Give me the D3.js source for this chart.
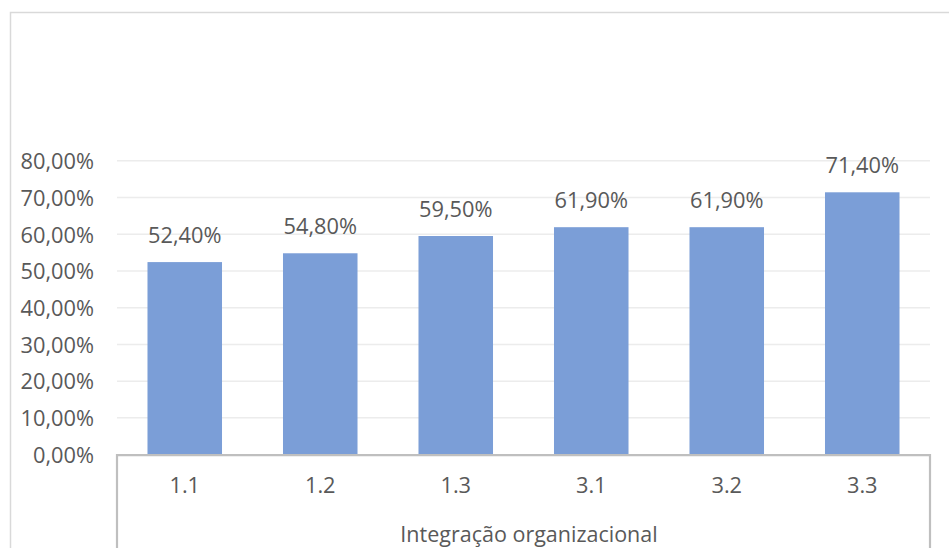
<!DOCTYPE html>
<html>
<head>
<meta charset="utf-8">
<script src="https://cdn.jsdelivr.net/npm/d3@7"></script>
<style>
  html, body { margin: 0; padding: 0; background: #ffffff; }
  svg { display: block; }
  text { font-family: "Open Sans", "Noto Sans", sans-serif; fill: #595959; }
</style>
</head>
<body>
<svg id="chart" width="949" height="548"></svg>
<script>
// Shares per item of "Integração organizacional"
const categories = ["1.1", "1.2", "1.3", "3.1", "3.2", "3.3"];
const values = [0.524, 0.548, 0.595, 0.619, 0.619, 0.714];
const yTicks = [0, 0.1, 0.2, 0.3, 0.4, 0.5, 0.6, 0.7, 0.8];
const groupLabel = "Integração organizacional";

const fmtPct = v => (v * 100).toFixed(2).replace(".", ",") + "%";

const svg = d3.select("#chart");
const W = 949, H = 548;
const plot = { left: 117, right: 930, top: 160.7, bottom: 454.6 };
const FS = 21.8;

// outer chart frame
svg.append("rect")
  .attr("x", 10.5).attr("y", 12.5)
  .attr("width", W + 20).attr("height", H + 20)
  .attr("fill", "#ffffff")
  .attr("stroke", "#d9d9d9").attr("stroke-width", 1.5);

const x = d3.scaleBand()
  .domain(categories)
  .range([plot.left, plot.right])
  .paddingInner(0.45).paddingOuter(0.225);

const y = d3.scaleLinear()
  .domain([0, 0.8])
  .range([plot.bottom, plot.top]);

// horizontal gridlines
svg.append("g")
  .selectAll("line")
  .data(yTicks.filter(t => t > 0))
  .join("line")
  .attr("x1", plot.left).attr("x2", plot.right)
  .attr("y1", d => y(d)).attr("y2", d => y(d))
  .attr("stroke", "#ececec").attr("stroke-width", 1.5);

// value axis labels
const yAxis = d3.axisLeft(y).tickValues(yTicks).tickFormat(fmtPct).tickSize(0).tickPadding(0);
const yG = svg.append("g").attr("transform", "translate(94,0)").call(yAxis);
yG.select(".domain").remove();
yG.selectAll("text")
  .attr("font-size", FS)
  .attr("font-family", "'Open Sans', sans-serif")
  .attr("fill", "#595959")
  .attr("dy", "0.36em");

// bars
svg.append("g")
  .selectAll("rect")
  .data(values)
  .join("rect")
  .attr("x", (d, i) => x(categories[i]))
  .attr("y", d => y(d))
  .attr("width", x.bandwidth())
  .attr("height", d => y(0) - y(d))
  .attr("fill", "#7b9ed7");

// data labels
svg.append("g")
  .selectAll("text")
  .data(values)
  .join("text")
  .attr("x", (d, i) => x(categories[i]) + x.bandwidth() / 2)
  .attr("y", d => y(d) - 19)
  .attr("text-anchor", "middle")
  .attr("font-size", FS)
  .text(d => fmtPct(d));

// category axis: box framing the item labels and the group label
const axisG = svg.append("g");
axisG.append("path")
  .attr("d", `M${plot.left},${H + 2}V${plot.bottom + 0.5}H${plot.right}V${H + 2}`)
  .attr("fill", "none")
  .attr("stroke", "#bfbfbf").attr("stroke-width", 2.2);

const xAxis = d3.axisBottom(x).tickSize(0).tickPadding(0);
const xG = svg.append("g").attr("transform", `translate(0,${plot.bottom})`).call(xAxis);
xG.select(".domain").remove();
xG.selectAll("text")
  .attr("font-size", FS)
  .attr("font-family", "'Open Sans', sans-serif")
  .attr("fill", "#595959")
  .attr("dy", 0)
  .attr("y", 38);

axisG.append("text")
  .attr("x", (plot.left + plot.right) / 2 + 5.5)
  .attr("y", 542)
  .attr("text-anchor", "middle")
  .attr("font-size", 21.5)
  .text(groupLabel);
</script>
</body>
</html>
